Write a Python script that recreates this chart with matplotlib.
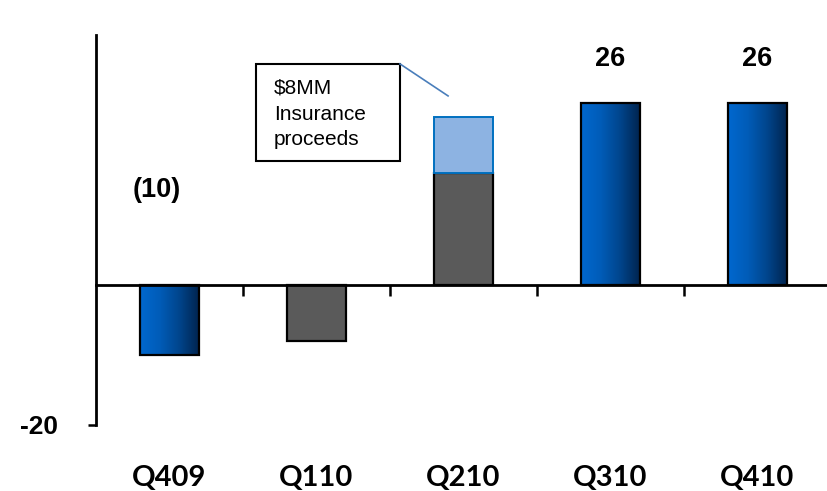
import numpy as np
import matplotlib
matplotlib.use("Agg")
import matplotlib.pyplot as plt
from matplotlib.patches import Rectangle
from matplotlib.colors import LinearSegmentedColormap

# quarterly values
quarters = ["Q409", "Q110", "Q210", "Q310", "Q410"]
base = [-10, -8, 16, 26, 26]
insurance = [0, 0, 8, 0, 0]
labels = ["(10)", "", "", "26", "26"]
gradient = [True, False, False, True, True]

blue_grad = LinearSegmentedColormap.from_list(
    "bluegrad", ["#0068cf", "#005cb8", "#00458c", "#00244f"])

fig = plt.figure(figsize=(8.28, 4.91), dpi=100)
ax = fig.add_axes([96 / 828, 66 / 491, 735 / 828, 390 / 491])

x = np.arange(len(quarters))
bars = ax.bar(x, base, width=0.4, color="#5a5a5a", edgecolor="black",
              linewidth=1.6, zorder=3)
top = ax.bar(x, insurance, width=0.4, bottom=base, color="#8db3e2",
             edgecolor="#0070c0", linewidth=1.4, zorder=3)
for b, h in zip(top, insurance):
    if h == 0:
        b.set_visible(False)

# left-to-right shading on the blue bars
grad = np.linspace(0, 1, 256).reshape(1, -1)
for b, g in zip(bars, gradient):
    if not g:
        continue
    bx, by = b.get_x(), b.get_y()
    bw, bh = b.get_width(), b.get_height()
    img = ax.imshow(grad, cmap=blue_grad, aspect="auto", zorder=3,
                    extent=[bx, bx + bw, min(by, by + bh), max(by, by + bh)])
    img.set_clip_path(b)
    b.set_facecolor("none")
    b.set_zorder(4)

ax.set_xlim(-0.5, 4.5)
ax.set_ylim(-20, 35.7)

# axes styling
for s in ["top", "right"]:
    ax.spines[s].set_visible(False)
ax.spines["bottom"].set_position(("data", 0))
ax.spines["bottom"].set_linewidth(2)
ax.spines["left"].set_linewidth(2)
ax.spines["bottom"].set_zorder(5)

ax.set_xticks([0.5, 1.5, 2.5, 3.5])
ax.set_xticklabels([])
ax.tick_params(axis="x", direction="out", length=8, width=1.8)
ax.set_yticks([-20])
ax.set_yticklabels(["-20"], fontsize=19, fontweight="bold",
                   family="Liberation Sans")
ax.tick_params(axis="y", direction="out", length=6, width=1.8, pad=21)

for i, q in enumerate(quarters):
    ax.text(i, -0.135, q, transform=ax.get_xaxis_transform(),
            ha="center", va="center", fontsize=21, fontweight="bold",
            family="Lato")

# value labels
label_pos = {0: (-0.085, 13.6), 3: (3.0, 32.3), 4: (4.0, 32.3)}
for i, (lx, ly) in label_pos.items():
    ax.text(lx, ly, labels[i], ha="center", va="center", fontsize=19.5,
            fontweight="bold", family="Liberation Sans")

# callout for insurance proceeds
ax.add_patch(Rectangle((0.588, 17.71), 0.98, 13.86, facecolor="white",
                       edgecolor="black", linewidth=1.5, zorder=5))
ax.plot([1.568, 1.895], [31.57, 27.0], color="#4a7ebb", linewidth=1.2,
        zorder=5)
ax.text(0.71, 24.4, "$8MM\nInsurance\nproceeds", ha="left", va="center",
        fontsize=15, family="Liberation Sans", linespacing=1.45, zorder=6)

fig.savefig("out.png", dpi=100)
